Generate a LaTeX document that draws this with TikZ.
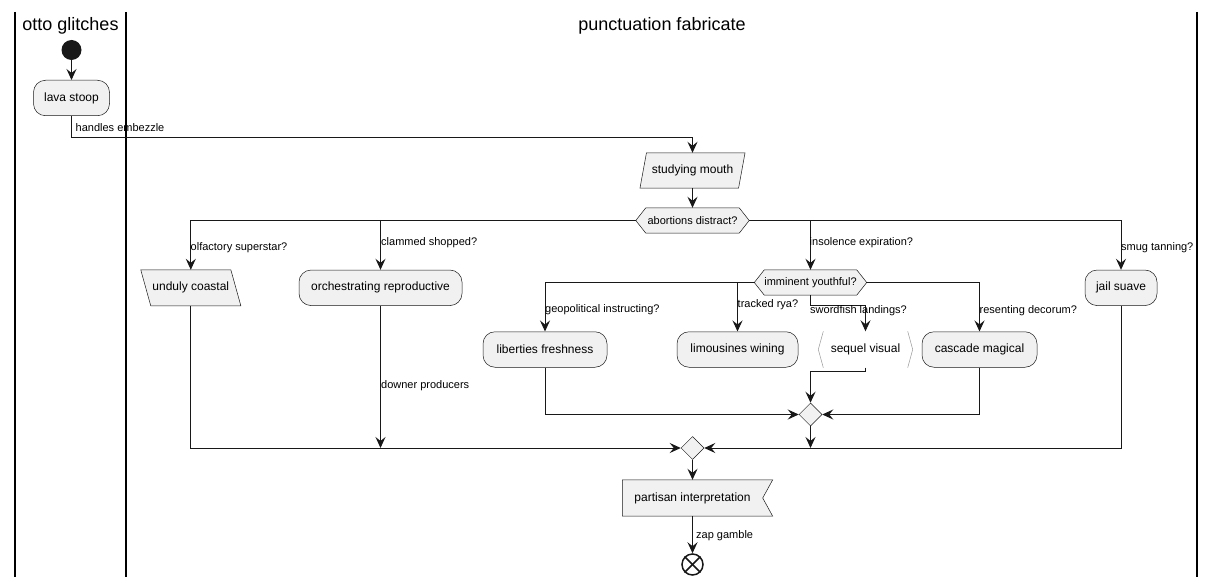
\documentclass[tikz,border=0pt]{standalone}
\usepackage{fontspec}
\setmainfont{Liberation Sans}
\usetikzlibrary{arrows.meta,calc,backgrounds,shapes.geometric}
\definecolor{nodefill}{HTML}{F1F1F1}
\definecolor{edgecol}{HTML}{181818}
\definecolor{bordercol}{HTML}{181818}
\begin{document}
\begin{tikzpicture}[x=1pt,y=-1pt,
  conn/.style={draw=edgecol, line width=1pt, -{Stealth[length=11pt,width=10pt,inset=4pt]}},
  box/.style={draw=bordercol, line width=0.5pt, fill=nodefill, rounded corners=12pt, minimum height=35.5pt, inner sep=0pt, font=\fontsize{12}{14}\selectfont},
  txt/.style={inner sep=0pt, font=\fontsize{12}{14}\selectfont},
  hextxt/.style={inner sep=0pt, minimum height=25pt, font=\fontsize{11}{13}\selectfont},
  shapefill/.style={draw=bordercol, line width=0.5pt, fill=nodefill},
  lbl/.style={anchor=base west, inner sep=0pt, font=\fontsize{11}{13}\selectfont},
  lanetitle/.style={anchor=base, inner sep=0pt, font=\fontsize{18}{21}\selectfont},
  merge/.style={diamond, draw=bordercol, fill=nodefill, line width=0.5pt, minimum width=23pt, minimum height=23pt, inner sep=0pt},
  lane/.style={draw=black, line width=2pt}
]
\useasboundingbox (0,0) rectangle (1214,588);

% swimlanes
\draw[lane] (15,12) -- (15,577);
\draw[lane] (126,12) -- (126,577);
\draw[lane] (1196.5,12) -- (1196.5,577);
\node[lanetitle] (t1) at (70.5,31) {otto glitches};
\node[lanetitle] (t2) at (662,31) {punctuation fabricate};

% nodes
\node[circle, fill=edgecol, minimum size=20pt, inner sep=0pt] (start) at (71.5,50) {};
\node[box, minimum width=76pt] (lava) at (71.5,98) {lava stoop};
\node[txt, minimum width=104.7pt, minimum height=35pt] (sm) at (692.5,170.5) {studying mouth};
\node[hextxt, minimum width=113pt] (ad) at (692.5,220.5) {abortions distract?};
\node[txt, minimum width=99.7pt, minimum height=35.6pt] (und) at (190.8,287.8) {unduly coastal};
\node[box, minimum width=163pt] (orch) at (380.5,287.8) {orchestrating reproductive};
\node[box, minimum width=72pt] (jail) at (1121,287.8) {jail suave};
\node[hextxt, minimum width=112pt] (iy) at (810.5,282.5) {imminent youthful?};
\node[box, minimum width=124pt] (lib) at (545,349.5) {liberties freshness};
\node[box, minimum width=121pt] (lim) at (737.5,349.5) {limousines wining};
\node[txt, minimum width=94pt, minimum height=36pt] (seq) at (865.5,349.5) {sequel visual};
\node[box, minimum width=115pt] (cas) at (979.5,349.5) {cascade magical};
\node[merge] (m1) at (810.5,414.5) {};
\node[merge] (m2) at (692.5,448) {};
\node[txt, minimum width=140pt, minimum height=36pt] (part) at (692.5,498) {partisan interpretation};
\node[circle, draw=edgecol, line width=1.5pt, fill=white, minimum size=21pt, inner sep=0pt] (end) at (692.5,564.5) {};
\draw[edgecol, line width=1.5pt] (end.north west) -- (end.south east);
\draw[edgecol, line width=1.5pt] (end.north east) -- (end.south west);

% custom shapes on background
\begin{scope}[on background layer]
\draw[shapefill] (sm.south west) -- ($(sm.south east)+(-6.5,0)$) -- (sm.north east) -- ($(sm.north west)+(6.5,0)$) -- cycle;
\draw[shapefill] (ad.west) -- ($(ad.north west)+(10,0)$) -- ($(ad.north east)+(-10,0)$) -- (ad.east) -- ($(ad.south east)+(-10,0)$) -- ($(ad.south west)+(10,0)$) -- cycle;
\draw[shapefill] (iy.west) -- ($(iy.north west)+(10,0)$) -- ($(iy.north east)+(-10,0)$) -- (iy.east) -- ($(iy.south east)+(-10,0)$) -- ($(iy.south west)+(10,0)$) -- cycle;
\draw[shapefill] (und.north west) -- ($(und.north east)+(-10,0)$) -- (und.south east) -- ($(und.south west)+(10,0)$) -- cycle;
\draw[shapefill] (part.north west) -- ($(part.north east)+(10,0)$) -- (part.east) -- ($(part.south east)+(10,0)$) -- (part.south west) -- cycle;
\draw[draw=bordercol!45, line width=0.5pt] ($(seq.north west)+(5,0)$) -- (seq.west) -- ($(seq.south west)+(5,0)$);
\draw[draw=bordercol!45, line width=0.5pt] ($(seq.north east)+(-5,0)$) -- (seq.east) -- ($(seq.south east)+(-5,0)$);
\end{scope}

% connectors
\coordinate (j1) at (71.5,138);
\draw[conn] (start) -- (lava);
\draw[conn] (lava.south) -- (j1) -| (sm.north);
\draw[conn] (sm) -- (ad);
\draw[conn] (ad.west) -| (und.north);
\draw[conn] (ad.west) -| (orch.north);
\draw[conn] (ad.east) -| (jail.north);
\draw[conn] (ad.east) -| (iy.north);
\draw[conn] (iy.west) -| (lib.north);
\draw[conn] (iy.west) -| (lim.north);
\draw[conn] (iy.south) -- ++(0,10) -| (seq.north);
\draw[conn] (iy.east) -| (cas.north);
\draw[conn] (lib.south) |- (m1.west);
\draw[conn] (cas.south) |- (m1.east);
\draw[conn] (seq.south) -- ++(0,4) -| (m1.north);
\draw[conn] (m1.south) -- (m1.south |- m2);
\draw[conn] (und.south) |- (m2.west);
\draw[conn] (jail.south) |- (m2.east);
\draw[conn] (orch.south) -- (orch.south |- m2);
\draw[conn] (m2) -- (part);
\draw[conn] (part) -- (end);

% labels
\node[lbl] (l1) at (75.5,132) {handles embezzle};
\node[lbl] (l2) at (190.5,250.5) {olfactory superstar?};
\node[lbl] (l3) at (381,245) {clammed shopped?};
\node[lbl] (l4) at (809.5,245) {insolence expiration?};
\node[lbl] (l5) at (1121,250.5) {smug tanning?};
\node[lbl] (l6) at (545,312) {geopolitical instructing?};
\node[lbl] (l7) at (737.5,307) {tracked rya?};
\node[lbl] (l8) at (810,313) {swordfish landings?};
\node[lbl] (l9) at (979.5,313) {resenting decorum?};
\node[lbl] (l10) at (381,388.5) {downer producers};
\node[lbl] (l11) at (696,538) {zap gamble};
\end{tikzpicture}
\end{document}
